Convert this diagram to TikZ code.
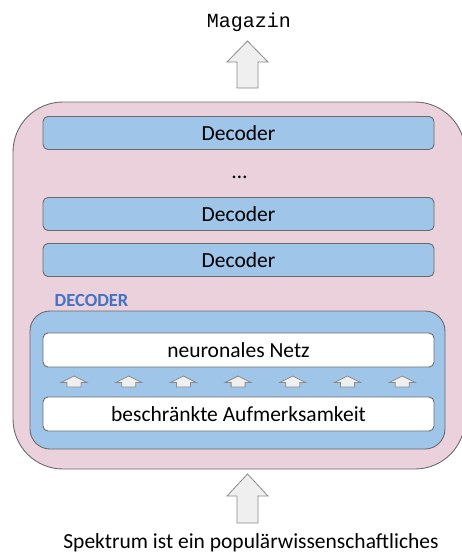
\documentclass[tikz,border=0pt]{standalone}
\usepackage{fontspec}
\setmainfont{Carlito}
\newfontfamily\codefont{Liberation Mono}
\definecolor{stackpink}{HTML}{EAD1DC}
\definecolor{layerblue}{HTML}{9FC5E8}
\definecolor{edgegray}{HTML}{6B6B6B}
\definecolor{arrowfill}{HTML}{EFEFEF}
\definecolor{arrowedge}{HTML}{8A8A8A}
\definecolor{titleblue}{HTML}{4472C4}
\tikzset{
  stackbox/.style={draw=edgegray, fill=stackpink, line width=0.9pt, rounded corners=50pt},
  innerbox/.style={draw=edgegray, fill=layerblue, line width=0.9pt, rounded corners=20pt},
  decbar/.style={draw=edgegray, fill=layerblue, line width=0.9pt, rounded corners=5pt,
    minimum width=391pt, minimum height=33pt, inner sep=0pt, font=\fontsize{21.5}{24}\selectfont},
  subbox/.style={draw=edgegray, fill=white, line width=0.9pt, rounded corners=5pt,
    minimum width=391pt, minimum height=34pt, inner sep=0pt, font=\fontsize{21.5}{24}\selectfont},
  blockarrow/.style={draw=arrowedge, fill=arrowfill, line width=0.8pt, line join=miter},
  plain/.style={inner sep=0pt, anchor=center}
}
% block arrow pointing up: centre x, tip y, head base y, tail y, half head width, half shaft width
\newcommand{\uparrowshape}[6]{%
  \path[blockarrow] (#1,#2) -- (#1+#5,#3) -- (#1+#6,#3) -- (#1+#6,#4)
    -- (#1-#6,#4) -- (#1-#6,#3) -- (#1-#5,#3) -- cycle;}
\begin{document}
\begin{tikzpicture}[x=1pt,y=-1pt]
  \useasboundingbox (0,0) rectangle (462,555);
  \clip (0,0) rectangle (462,555);

  % output token and arrow
  \node[plain, font=\codefont\fontsize{20}{22}\selectfont] (out) at (249,22) {Magazin};
  \uparrowshape{247.5}{41}{62}{88}{20.5}{10.5}

  % decoder stack
  \path[stackbox] (13,102) rectangle (465,469);
  \node[decbar] (d1) at (238.5,133) {Decoder};
  \node[plain, font=\fontsize{21.5}{24}\selectfont] (dots) at (239.5,177.5) {\ldots};
  \node[decbar] (d2) at (238.5,214) {Decoder};
  \node[decbar] (d3) at (238.5,260) {Decoder};

  % one decoder in detail
  \node[plain, anchor=west, text=titleblue, font=\bfseries\fontsize{18.5}{20}\selectfont] (lbl) at (54.5,300) {DECODER};
  \path[innerbox] (30,311) rectangle (445,449);
  \node[subbox] (ffn) at (238.5,350) {neuronales Netz};
  \node[subbox] (att) at (238.5,414) {beschränkte Aufmerksamkeit};
  \foreach \i in {0,...,6}{
    \uparrowshape{74+54.7*\i}{376}{382.5}{387}{13}{7}
  }

  % input arrow and text
  \uparrowshape{247.5}{474}{496}{523}{20.5}{10.5}
  \node[plain, font=\fontsize{21.5}{24}\selectfont] (inp) at (251,543) {Spektrum ist ein populärwissenschaftliches};
\end{tikzpicture}
\end{document}
